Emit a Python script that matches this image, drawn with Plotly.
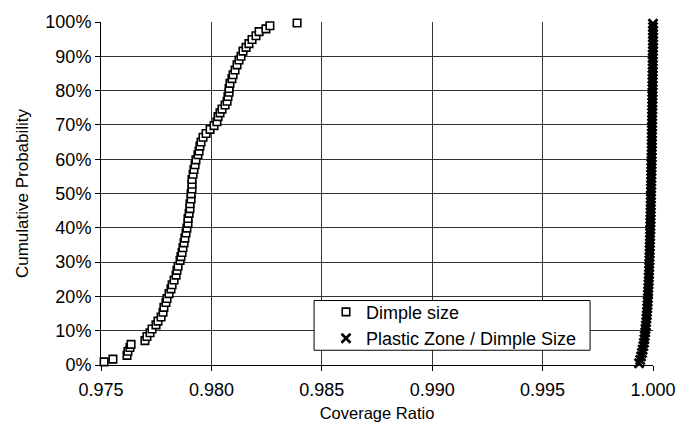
import plotly.graph_objects as go

dimple_x = [0.97514, 0.97554, 0.97618, 0.97622, 0.97631, 0.97636, 0.97699, 0.97708, 0.97722, 0.97731,
            0.97749, 0.97758, 0.97772, 0.97781, 0.97785, 0.97794, 0.97799, 0.97808, 0.97817, 0.97822,
            0.97831, 0.97840, 0.97844, 0.97849, 0.97858, 0.97862, 0.97867, 0.97871, 0.97876, 0.97880,
            0.97885, 0.97889, 0.97894, 0.97894, 0.97899, 0.97903, 0.97903, 0.97908, 0.97908, 0.97912,
            0.97912, 0.97912, 0.97917, 0.97921, 0.97926, 0.97930, 0.97939, 0.97944, 0.97948, 0.97953,
            0.97962, 0.97976, 0.97994, 0.98012, 0.98025, 0.98030, 0.98039, 0.98048, 0.98062, 0.98071,
            0.98075, 0.98080, 0.98080, 0.98084, 0.98093, 0.98098, 0.98107, 0.98116, 0.98125, 0.98134,
            0.98143, 0.98157, 0.98170, 0.98184, 0.98202, 0.98216, 0.98247, 0.98265, 0.98388]
dimple_y = [0.009, 0.017, 0.028, 0.040, 0.051, 0.060, 0.071, 0.083, 0.094, 0.105,
            0.117, 0.128, 0.140, 0.154, 0.168, 0.182, 0.194, 0.208, 0.222, 0.234,
            0.248, 0.262, 0.276, 0.288, 0.305, 0.316, 0.328, 0.342, 0.356, 0.370,
            0.385, 0.399, 0.413, 0.427, 0.442, 0.456, 0.470, 0.484, 0.499, 0.513,
            0.527, 0.541, 0.556, 0.570, 0.584, 0.598, 0.613, 0.624, 0.638, 0.650,
            0.664, 0.675, 0.687, 0.698, 0.709, 0.724, 0.735, 0.746, 0.758, 0.769,
            0.783, 0.795, 0.806, 0.821, 0.835, 0.846, 0.860, 0.875, 0.889, 0.900,
            0.915, 0.926, 0.937, 0.949, 0.960, 0.972, 0.980, 0.989, 0.997]

plastic_y = [0.005, 0.015, 0.025, 0.035, 0.045, 0.055, 0.065, 0.075, 0.085, 0.095,
             0.105, 0.115, 0.125, 0.135, 0.145, 0.155, 0.165, 0.175, 0.185, 0.195,
             0.205, 0.215, 0.225, 0.235, 0.245, 0.255, 0.265, 0.275, 0.285, 0.295,
             0.305, 0.315, 0.325, 0.335, 0.345, 0.355, 0.365, 0.375, 0.385, 0.395,
             0.405, 0.415, 0.425, 0.435, 0.445, 0.455, 0.465, 0.475, 0.485, 0.495,
             0.505, 0.515, 0.525, 0.535, 0.545, 0.555, 0.565, 0.575, 0.585, 0.595,
             0.605, 0.615, 0.625, 0.635, 0.645, 0.655, 0.665, 0.675, 0.685, 0.695,
             0.705, 0.715, 0.725, 0.735, 0.745, 0.755, 0.765, 0.775, 0.785, 0.795,
             0.805, 0.815, 0.825, 0.835, 0.845, 0.855, 0.865, 0.875, 0.885, 0.895,
             0.905, 0.915, 0.925, 0.935, 0.945, 0.955, 0.965, 0.975, 0.985, 0.995]
plastic_x = [0.99937, 0.99942, 0.99946, 0.99950, 0.99953, 0.99956, 0.99959, 0.99961, 0.99963, 0.99965,
             0.99966, 0.99968, 0.99969, 0.99970, 0.99972, 0.99973, 0.99974, 0.99975, 0.99976, 0.99977,
             0.99977, 0.99978, 0.99979, 0.99980, 0.99981, 0.99981, 0.99982, 0.99982, 0.99983, 0.99983,
             0.99984, 0.99984, 0.99985, 0.99985, 0.99986, 0.99986, 0.99986, 0.99987, 0.99987, 0.99988,
             0.99988, 0.99988, 0.99989, 0.99989, 0.99989, 0.99990, 0.99990, 0.99990, 0.99991, 0.99991,
             0.99991, 0.99991, 0.99992, 0.99992, 0.99992, 0.99992, 0.99993, 0.99993, 0.99993, 0.99993,
             0.99994, 0.99994, 0.99994, 0.99994, 0.99995, 0.99995, 0.99995, 0.99995, 0.99995, 0.99996,
             0.99996, 0.99996, 0.99996, 0.99996, 0.99997, 0.99997, 0.99997, 0.99997, 0.99997, 0.99998,
             0.99998, 0.99998, 0.99998, 0.99998, 0.99998, 0.99999, 0.99999, 0.99999, 0.99999, 0.99999,
             0.99999, 1.00000, 1.00000, 1.00000, 1.00000, 1.00000, 1.00000, 1.00000, 1.00000, 1.00000]

x_ticks = [0.975, 0.980, 0.985, 0.990, 0.995, 1.000]
y_ticks = [0, 0.1, 0.2, 0.3, 0.4, 0.5, 0.6, 0.7, 0.8, 0.9, 1.0]

FONT = "Liberation Sans, Arial, sans-serif"

fig = go.Figure()
fig.add_trace(go.Scatter(
    x=dimple_x, y=dimple_y, mode="markers", name="Dimple size",
    marker=dict(symbol="square", size=7.5, color="white", line=dict(color="black", width=1.6)),
    cliponaxis=False,
))
fig.add_trace(go.Scatter(
    x=plastic_x, y=plastic_y, mode="markers", name="Plastic Zone / Dimple Size",
    marker=dict(symbol="x-thin", size=9, color="black", line=dict(color="black", width=2.6)),
    cliponaxis=False,
))

# legend frame (Excel-style box)
fig.add_shape(type="rect", xref="paper", yref="paper",
              x0=0.386, x1=0.886, y0=0.043, y1=0.188,
              fillcolor="white", line=dict(color="black", width=1), layer="above")

fig.update_layout(
    width=690, height=434,
    margin=dict(l=101, r=37, t=14, b=69),
    paper_bgcolor="white", plot_bgcolor="white",
    font=dict(family=FONT, size=18, color="black"),
    showlegend=True,
    legend=dict(
        x=0.4076, y=0.208, xanchor="left", yanchor="top",
        bgcolor="rgba(0,0,0,0)", borderwidth=0,
        font=dict(family=FONT, size=18, color="black"),
        itemwidth=30, tracegroupgap=0,
    ),
    xaxis=dict(
        range=[0.975, 1.000], tickvals=x_ticks, tickformat=".3f",
        tickfont=dict(size=18), ticklabelstandoff=3,
        showgrid=True, gridcolor="#333333", gridwidth=1,
        showline=True, linecolor="black", linewidth=1,
        ticks="outside", ticklen=5, tickcolor="black",
        zeroline=False,
        title=dict(text="Coverage Ratio", font=dict(family=FONT, size=16.5), standoff=8),
    ),
    yaxis=dict(
        range=[0, 1.0], tickvals=y_ticks, tickformat=".0%",
        tickfont=dict(size=18),
        showgrid=True, gridcolor="#333333", gridwidth=1,
        showline=True, linecolor="black", linewidth=1,
        ticks="outside", ticklen=5, tickcolor="black",
        zeroline=False,
        title=dict(text="Cumulative Probability", font=dict(family=FONT, size=17), standoff=12),
    ),
)

fig.write_html("out.html")
